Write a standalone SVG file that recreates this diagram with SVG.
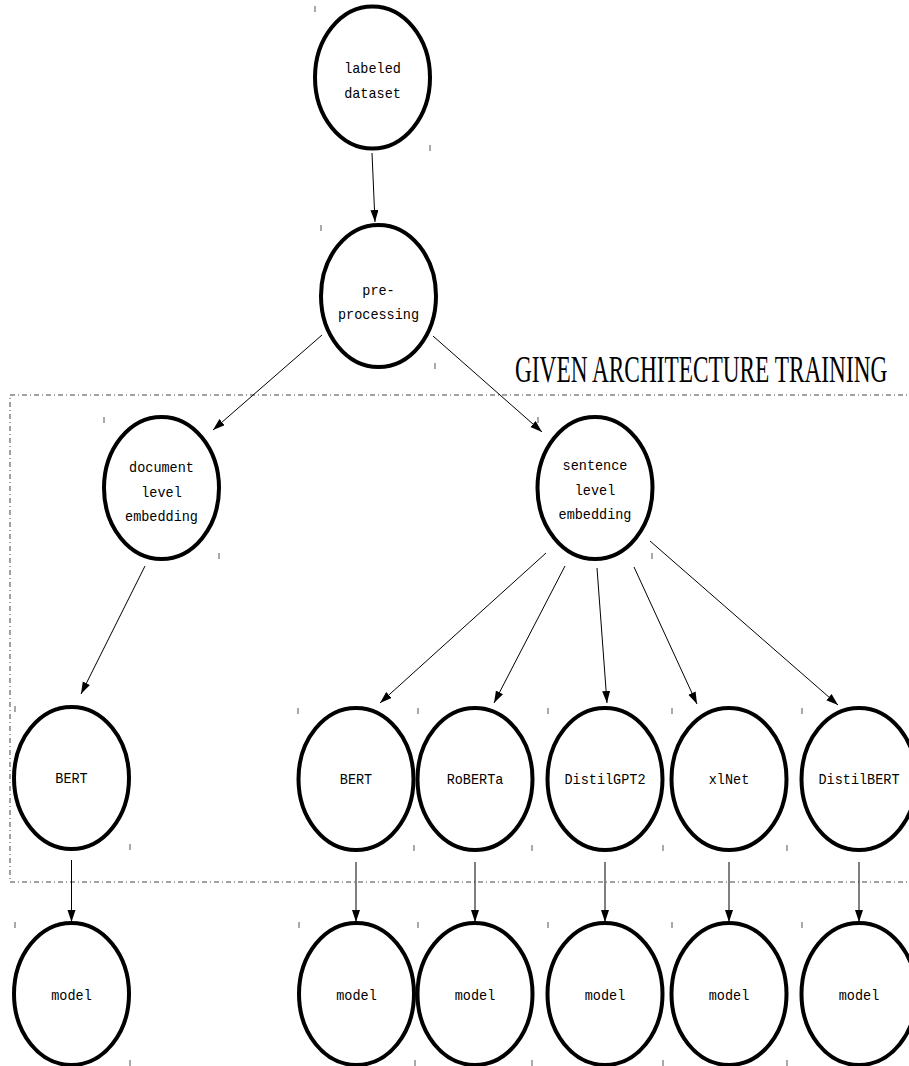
<svg xmlns="http://www.w3.org/2000/svg" width="909" height="1066" viewBox="0 0 909 1066">
<style>
.node ellipse{fill:#fff;stroke:#000;stroke-width:4}
.node text{font-family:"Liberation Mono","DejaVu Sans Mono",monospace;font-size:15px;fill:#000;text-anchor:middle}
.tick{stroke:#555;stroke-width:1}
.edge{stroke:#000;stroke-width:1;fill:none;marker-end:url(#arr)}
.frame{fill:none;stroke:#444;stroke-width:1;stroke-dasharray:5 3 1 3}
.title{font-family:"Liberation Serif","DejaVu Serif",serif;font-size:37px;fill:#000}
</style>
<defs>
<marker id="arr" markerUnits="userSpaceOnUse" markerWidth="13" markerHeight="9" refX="12" refY="4" orient="auto">
<path d="M0,0 L12,4 L0,8 z" fill="#000"/>
</marker>
</defs>
<rect class="frame" x="10" y="395" width="905" height="487"/>
<text class="title" transform="translate(515,382) scale(0.63,1)" x="0" y="0">GIVEN ARCHITECTURE TRAINING</text>
<g id="connectors">
<line class="edge" x1="372" y1="153" x2="375" y2="222"/>
<line class="edge" x1="322" y1="335" x2="213" y2="430"/>
<line class="edge" x1="433" y1="336" x2="542" y2="432"/>
<line class="edge" x1="145" y1="566" x2="81" y2="694"/>
<line class="edge" x1="546" y1="553" x2="380" y2="703"/>
<line class="edge" x1="565" y1="566" x2="494" y2="703"/>
<line class="edge" x1="597" y1="568" x2="607" y2="703"/>
<line class="edge" x1="634" y1="567" x2="697" y2="704"/>
<line class="edge" x1="650" y1="541" x2="838" y2="705"/>
<line class="edge" x1="71.5" y1="860" x2="71.5" y2="922"/>
<line class="edge" x1="356" y1="862" x2="356" y2="922"/>
<line class="edge" x1="475" y1="862" x2="475" y2="922"/>
<line class="edge" x1="605" y1="862" x2="605" y2="922"/>
<line class="edge" x1="729" y1="862" x2="729" y2="922"/>
<line class="edge" x1="859" y1="862" x2="859" y2="922"/>
</g>
<g id="n_labeled" class="node">
<ellipse cx="372.5" cy="77.5" rx="57.5" ry="71"/>
<text x="372.5" y="73" textLength="56.7" lengthAdjust="spacingAndGlyphs">labeled</text><text x="372.5" y="98" textLength="56.7" lengthAdjust="spacingAndGlyphs">dataset</text>
<line class="tick" x1="315" y1="6" x2="315" y2="12"/><line class="tick" x1="430" y1="145" x2="430" y2="151"/>
</g>
<g id="n_pre" class="node">
<ellipse cx="378.5" cy="296" rx="57.5" ry="71"/>
<text x="378.5" y="295" textLength="32.4" lengthAdjust="spacingAndGlyphs">pre-</text><text x="378.5" y="319" textLength="81" lengthAdjust="spacingAndGlyphs">processing</text>
<line class="tick" x1="321" y1="225" x2="321" y2="231"/><line class="tick" x1="435" y1="363" x2="435" y2="369"/>
</g>
<g id="n_doc" class="node">
<ellipse cx="161.5" cy="488" rx="57.5" ry="71"/>
<text x="161.5" y="472" textLength="64.8" lengthAdjust="spacingAndGlyphs">document</text><text x="161.5" y="497" textLength="40.5" lengthAdjust="spacingAndGlyphs">level</text><text x="161.5" y="521" textLength="72.9" lengthAdjust="spacingAndGlyphs">embedding</text>
<line class="tick" x1="104" y1="417" x2="104" y2="423"/><line class="tick" x1="219" y1="553" x2="219" y2="559"/>
</g>
<g id="n_sent" class="node">
<ellipse cx="595" cy="488" rx="57.5" ry="71"/>
<text x="595" y="470" textLength="64.8" lengthAdjust="spacingAndGlyphs">sentence</text><text x="595" y="495" textLength="40.5" lengthAdjust="spacingAndGlyphs">level</text><text x="595" y="519" textLength="72.9" lengthAdjust="spacingAndGlyphs">embedding</text>
<line class="tick" x1="538" y1="417" x2="538" y2="423"/><line class="tick" x1="652" y1="553" x2="652" y2="559"/>
</g>
<g id="n_bert1" class="node">
<ellipse cx="71.5" cy="778" rx="57.5" ry="71"/>
<text x="71.5" y="783" textLength="32.4" lengthAdjust="spacingAndGlyphs">BERT</text>
<line class="tick" x1="15" y1="706" x2="15" y2="712"/><line class="tick" x1="130" y1="844" x2="130" y2="850"/>
</g>
<g id="n_bert2" class="node">
<ellipse cx="356" cy="779" rx="57.5" ry="71"/>
<text x="356" y="784" textLength="32.4" lengthAdjust="spacingAndGlyphs">BERT</text>
<line class="tick" x1="298" y1="708" x2="298" y2="714"/><line class="tick" x1="414" y1="845" x2="414" y2="851"/>
</g>
<g id="n_roberta" class="node">
<ellipse cx="475" cy="779" rx="57.5" ry="71"/>
<text x="475" y="784" textLength="56.7" lengthAdjust="spacingAndGlyphs">RoBERTa</text>
<line class="tick" x1="418" y1="708" x2="418" y2="714"/><line class="tick" x1="532" y1="845" x2="532" y2="851"/>
</g>
<g id="n_distilgpt2" class="node">
<ellipse cx="605" cy="779" rx="57.5" ry="71"/>
<text x="605" y="784" textLength="81" lengthAdjust="spacingAndGlyphs">DistilGPT2</text>
<line class="tick" x1="548" y1="708" x2="548" y2="714"/><line class="tick" x1="663" y1="845" x2="663" y2="851"/>
</g>
<g id="n_xlnet" class="node">
<ellipse cx="729" cy="779" rx="57.5" ry="71"/>
<text x="729" y="784" textLength="40.5" lengthAdjust="spacingAndGlyphs">xlNet</text>
<line class="tick" x1="672" y1="708" x2="672" y2="714"/><line class="tick" x1="787" y1="845" x2="787" y2="851"/>
</g>
<g id="n_distilbert" class="node">
<ellipse cx="859" cy="779" rx="57.5" ry="71"/>
<text x="859" y="784" textLength="81" lengthAdjust="spacingAndGlyphs">DistilBERT</text>
<line class="tick" x1="802" y1="708" x2="802" y2="714"/>
</g>
<g id="n_model1" class="node">
<ellipse cx="71.5" cy="994" rx="57.5" ry="71"/>
<text x="71.5" y="1000" textLength="40.5" lengthAdjust="spacingAndGlyphs">model</text>
<line class="tick" x1="15" y1="922" x2="15" y2="928"/><line class="tick" x1="130" y1="1060" x2="130" y2="1066"/>
</g>
<g id="n_model2" class="node">
<ellipse cx="356.5" cy="994" rx="57.5" ry="71"/>
<text x="356.5" y="1000" textLength="40.5" lengthAdjust="spacingAndGlyphs">model</text>
<line class="tick" x1="299" y1="922" x2="299" y2="928"/><line class="tick" x1="415" y1="1060" x2="415" y2="1066"/>
</g>
<g id="n_model3" class="node">
<ellipse cx="475" cy="994" rx="57.5" ry="71"/>
<text x="475" y="1000" textLength="40.5" lengthAdjust="spacingAndGlyphs">model</text>
<line class="tick" x1="418" y1="922" x2="418" y2="928"/><line class="tick" x1="532" y1="1060" x2="532" y2="1066"/>
</g>
<g id="n_model4" class="node">
<ellipse cx="605" cy="994" rx="57.5" ry="71"/>
<text x="605" y="1000" textLength="40.5" lengthAdjust="spacingAndGlyphs">model</text>
<line class="tick" x1="548" y1="922" x2="548" y2="928"/><line class="tick" x1="663" y1="1060" x2="663" y2="1066"/>
</g>
<g id="n_model5" class="node">
<ellipse cx="729" cy="994" rx="57.5" ry="71"/>
<text x="729" y="1000" textLength="40.5" lengthAdjust="spacingAndGlyphs">model</text>
<line class="tick" x1="672" y1="922" x2="672" y2="928"/><line class="tick" x1="787" y1="1060" x2="787" y2="1066"/>
</g>
<g id="n_model6" class="node">
<ellipse cx="859" cy="994" rx="57.5" ry="71"/>
<text x="859" y="1000" textLength="40.5" lengthAdjust="spacingAndGlyphs">model</text>
<line class="tick" x1="802" y1="922" x2="802" y2="928"/>
</g>
</svg>
